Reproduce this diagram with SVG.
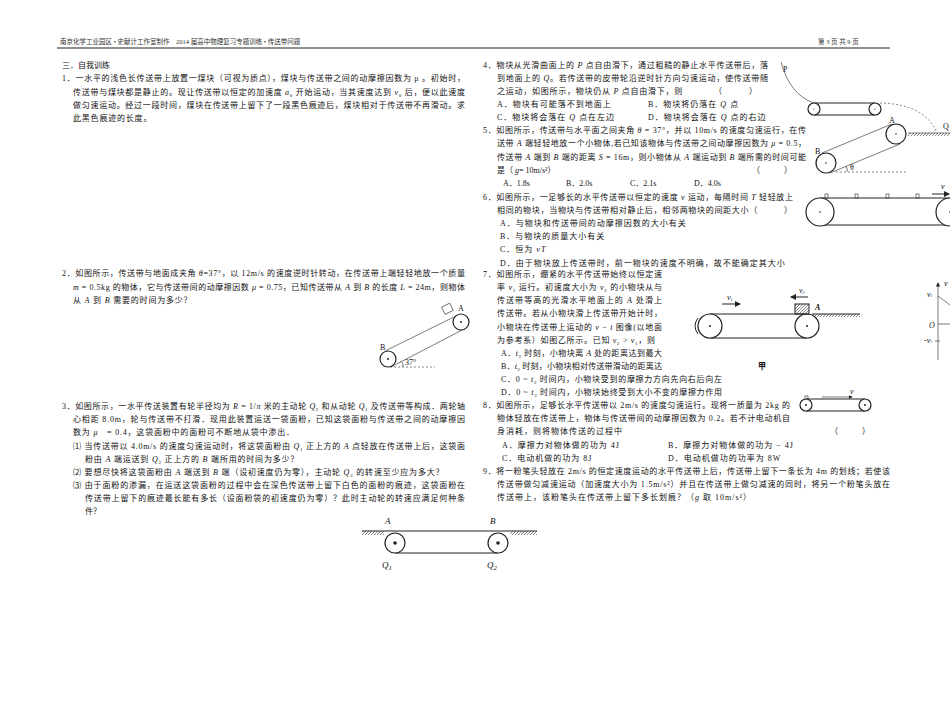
<svg xmlns="http://www.w3.org/2000/svg" width="950" height="713" viewBox="0 0 950 713">
<defs>
<style>
text{font-family:"Liberation Serif","Noto Sans CJK SC",serif;font-size:8px;fill:#111}
.h{font-size:6.5px;fill:#333}
.ln{stroke:#222;stroke-width:1;fill:none}
.tn{stroke:#444;stroke-width:0.7;fill:none}
.ds{stroke:#555;stroke-width:0.7;fill:none;stroke-dasharray:2 2}
.w{fill:#fff;stroke:#222;stroke-width:1.2}
.lab{font-size:9px;font-style:italic}
</style>
<pattern id="hat" width="3" height="3" patternUnits="userSpaceOnUse"><path d="M0 3L3 0" stroke="#333" stroke-width="0.6"/></pattern>
<marker id="ar" markerWidth="6" markerHeight="6" refX="5" refY="3" orient="auto"><path d="M0 0L6 3L0 6z" fill="#222"/></marker>
</defs>
<rect width="950" height="713" fill="#fff"/>
<g id="header">
<text class="h" x="60" y="44">南京化学工业园区 • 史献计工作室制作　2014 届高中物理复习专题训练 • 传送带问题</text>
<text class="h" x="818" y="44">第 3 页 共 9 页</text>
<line x1="57" y1="48" x2="890" y2="48" stroke="#222" stroke-width="1"/>
</g>
<g id="left-text">
<text x="62" y="68">三．自我训练</text>
<text x="62" y="81" textLength="403" lengthAdjust="spacing">1．一水平的浅色长传送带上放置一煤块（可视为质点），煤块与传送带之间的动摩擦因数为 μ 。初始时，</text>
<text x="73" y="95" textLength="392" lengthAdjust="spacing">传送带与煤块都是静止的。现让传送带以恒定的加速度 <tspan font-style="italic">a</tspan><tspan font-size="5" dy="2">0</tspan><tspan dy="-2"> 开始运动，当其速度达到 </tspan><tspan font-style="italic">v</tspan><tspan font-size="5" dy="2">0</tspan><tspan dy="-2"> 后，便以此速度</tspan></text>
<text x="73" y="108" textLength="392" lengthAdjust="spacing">做匀速运动。经过一段时间，煤块在传送带上留下了一段黑色痕迹后，煤块相对于传送带不再滑动。求</text>
<text x="73" y="121" letter-spacing="0.8">此黑色痕迹的长度。</text>
<text x="62" y="276" textLength="403" lengthAdjust="spacing">2．如图所示，传送带与地面成夹角 <tspan font-style="italic">θ</tspan>=37°，以 12m/s 的速度逆时针转动，在传送带上端轻轻地放一个质量</text>
<text x="73" y="290" textLength="392" lengthAdjust="spacing"><tspan font-style="italic">m</tspan> = 0.5kg 的物体，它与传送带间的动摩擦因数 <tspan font-style="italic">μ</tspan> = 0.75，已知传送带从 <tspan font-style="italic">A</tspan> 到 <tspan font-style="italic">B</tspan> 的长度 <tspan font-style="italic">L</tspan> = 24m，则物体</text>
<text x="73" y="303" letter-spacing="0.8">从 <tspan font-style="italic">A</tspan> 到 <tspan font-style="italic">B</tspan> 需要的时间为多少？</text>
<text x="62" y="409" textLength="403" lengthAdjust="spacing">3．如图所示，一水平传送装置有轮半径均为 <tspan font-style="italic">R</tspan> = 1/<tspan font-style="italic">π</tspan> 米的主动轮 <tspan font-style="italic">Q</tspan><tspan font-size="5" dy="2">2</tspan><tspan dy="-2"> 和从动轮 </tspan><tspan font-style="italic">Q</tspan><tspan font-size="5" dy="2">1</tspan><tspan dy="-2"> 及传送带等构成．两轮轴</tspan></text>
<text x="73" y="422" textLength="392" lengthAdjust="spacing">心相距 8.0m，轮与传送带不打滑．现用此装置运送一袋面粉，已知这袋面粉与传送带之间的动摩擦因</text>
<text x="73" y="435" letter-spacing="0.8">数为 <tspan font-style="italic">μ</tspan>　= 0.4，这袋面粉中的面粉可不断地从袋中渗出．</text>
<text x="73" y="449" textLength="392" lengthAdjust="spacing">⑴ 当传送带以 4.0m/s 的速度匀速运动时，将这袋面粉由 <tspan font-style="italic">Q</tspan><tspan font-size="5" dy="2">1</tspan><tspan dy="-2"> 正上方的 </tspan><tspan font-style="italic">A</tspan> 点轻放在传送带上后，这袋面</text>
<text x="85" y="462" letter-spacing="0.8">粉由 <tspan font-style="italic">A</tspan> 端运送到 <tspan font-style="italic">Q</tspan><tspan font-size="5" dy="2">2</tspan><tspan dy="-2"> 正上方的 </tspan><tspan font-style="italic">B</tspan> 端所用的时间为多少？</text>
<text x="73" y="475" letter-spacing="0.8">⑵ 要想尽快将这袋面粉由 <tspan font-style="italic">A</tspan> 端送到 <tspan font-style="italic">B</tspan> 端（设初速度仍为零），主动轮 <tspan font-style="italic">Q</tspan><tspan font-size="5" dy="2">2</tspan><tspan dy="-2"> 的转速至少应为多大？</tspan></text>
<text x="73" y="488" textLength="392" lengthAdjust="spacing">⑶ 由于面粉的渗漏，在运送这袋面粉的过程中会在深色传送带上留下白色的面粉的痕迹，这袋面粉在</text>
<text x="85" y="501" textLength="380" lengthAdjust="spacing">传送带上留下的痕迹最长能有多长（设面粉袋的初速度仍为零）？此时主动轮的转速应满足何种条</text>
<text x="85" y="514">件？</text>
</g>
<g id="right-text">
<text x="483" y="68" textLength="285" lengthAdjust="spacing">4．物块从光滑曲面上的 <tspan font-style="italic">P</tspan> 点自由滑下，通过粗糙的静止水平传送带后，落</text>
<text x="497" y="81" textLength="271" lengthAdjust="spacing">到地面上的 <tspan font-style="italic">Q</tspan>。若传送带的皮带轮沿逆时针方向匀速运动，使传送带随</text>
<text x="497" y="94" textLength="260" lengthAdjust="spacing">之运动，如图所示，物块仍从 <tspan font-style="italic">P</tspan> 点自由滑下，则　　　　（　　　）</text>
<text x="497" y="107" letter-spacing="1">A．物块有可能落不到地面上</text>
<text x="648" y="107" letter-spacing="1">B．物块将仍落在 <tspan font-style="italic">Q</tspan> 点</text>
<text x="497" y="120" letter-spacing="1">C．物块将会落在 <tspan font-style="italic">Q</tspan> 点在左边</text>
<text x="648" y="120" letter-spacing="1">D．物块将会落在 <tspan font-style="italic">Q</tspan> 点的右边</text>
<text x="483" y="133" textLength="323" lengthAdjust="spacing">5．如图所示，传送带与水平面之间夹角 <tspan font-style="italic">θ</tspan> = 37°，并以 10m/s 的速度匀速运行，在传</text>
<text x="497" y="146" textLength="309" lengthAdjust="spacing">送带 <tspan font-style="italic">A</tspan> 端轻轻地放一个小物体,若已知该物体与传送带之间动摩擦因数为 <tspan font-style="italic">μ</tspan> = 0.5，</text>
<text x="497" y="160" textLength="309" lengthAdjust="spacing">传送带 <tspan font-style="italic">A</tspan> 端到 <tspan font-style="italic">B</tspan> 端的距离 <tspan font-style="italic">S</tspan> = 16m，则小物体从 <tspan font-style="italic">A</tspan> 端运动到 <tspan font-style="italic">B</tspan> 端所需的时间可能</text>
<text x="497" y="173">是（ <tspan font-style="italic">g</tspan>= 10m/s²）</text>
<text x="752" y="173">（　　　）</text>
<text x="503" y="186">A．1.8s</text>
<text x="566" y="186">B．2.0s</text>
<text x="630" y="186">C．2.1s</text>
<text x="694" y="186">D．4.0s</text>
<text x="483" y="200" textLength="310" lengthAdjust="spacing">6．如图所示，一足够长的水平传送带以恒定的速度 <tspan font-style="italic">v</tspan> 运动，每隔时间 <tspan font-style="italic">T</tspan> 轻轻放上</text>
<text x="497" y="213" textLength="295" lengthAdjust="spacing">相同的物块，当物块与传送带相对静止后，相邻两物块的间距大小（　　　）</text>
<text x="500" y="226" letter-spacing="1">A．与物块和传送带间的动摩擦因数的大小有关</text>
<text x="500" y="239" letter-spacing="1">B．与物块的质量大小有关</text>
<text x="500" y="252" letter-spacing="1">C．恒为 <tspan font-style="italic">vT</tspan></text>
<text x="500" y="266" letter-spacing="1">D．由于物块放上传送带时，前一物块的速度不明确，故不能确定其大小</text>
<text x="483" y="277" textLength="179" lengthAdjust="spacing">7．如图所示，绷紧的水平传送带始终以恒定速</text>
<text x="497" y="290" textLength="165" lengthAdjust="spacing">率 <tspan font-style="italic">v</tspan><tspan font-size="5" dy="2">1</tspan><tspan dy="-2"> 运行。初速度大小为 </tspan><tspan font-style="italic">v</tspan><tspan font-size="5" dy="2">2</tspan><tspan dy="-2"> 的小物块从与</tspan></text>
<text x="497" y="303" textLength="165" lengthAdjust="spacing">传送带等高的光滑水平地面上的 <tspan font-style="italic">A</tspan> 处滑上</text>
<text x="497" y="316" textLength="165" lengthAdjust="spacing">传送带。若从小物块滑上传送带开始计时，</text>
<text x="497" y="330" textLength="165" lengthAdjust="spacing">小物块在传送带上运动的 <tspan font-style="italic">v</tspan> − <tspan font-style="italic">t</tspan> 图像(以地面</text>
<text x="497" y="343" textLength="158" lengthAdjust="spacing">为参考系）如图乙所示。已知 <tspan font-style="italic">v</tspan><tspan font-size="5" dy="2">2</tspan><tspan dy="-2"> &gt; </tspan><tspan font-style="italic">v</tspan><tspan font-size="5" dy="2">1</tspan><tspan dy="-2">，则</tspan></text>
<text x="501" y="356" textLength="161" lengthAdjust="spacing">A．<tspan font-style="italic">t</tspan><tspan font-size="5" dy="2">2</tspan><tspan dy="-2"> 时刻，小物块离 </tspan><tspan font-style="italic">A</tspan> 处的距离达到最大</text>
<text x="501" y="369" textLength="161" lengthAdjust="spacing">B．<tspan font-style="italic">t</tspan><tspan font-size="5" dy="2">2</tspan><tspan dy="-2"> 时刻，小物块相对传送带滑动的距离达</tspan></text>
<text x="501" y="382" textLength="221" lengthAdjust="spacing">C．0 ~ <tspan font-style="italic">t</tspan><tspan font-size="5" dy="2">2</tspan><tspan dy="-2"> 时间内，小物块受到的摩擦力方向先向右后向左</tspan></text>
<text x="501" y="395" textLength="221" lengthAdjust="spacing">D．0 ~ <tspan font-style="italic">t</tspan><tspan font-size="5" dy="2">3</tspan><tspan dy="-2"> 时间内，小物块始终受到大小不变的摩擦力作用</tspan></text>
<text x="483" y="408" textLength="307" lengthAdjust="spacing">8．如图所示，足够长水平传送带以 2m/s 的速度匀速运行。现将一质量为 2kg 的</text>
<text x="497" y="421" textLength="293" lengthAdjust="spacing">物体轻放在传送带上，物体与传送带间的动摩擦因数为 0.2。若不计电动机自</text>
<text x="497" y="434" letter-spacing="1">身消耗，则将物体传送的过程中</text>
<text x="830" y="434">（　　　）</text>
<text x="502" y="448" letter-spacing="1">A．摩擦力对物体做的功为 4J</text>
<text x="668" y="448" letter-spacing="1">B．摩擦力对物体做的功为 − 4J</text>
<text x="502" y="461" letter-spacing="1">C．电动机做的功为 8J</text>
<text x="668" y="461" letter-spacing="1">D．电动机做功的功率为 8W</text>
<text x="483" y="474" textLength="407" lengthAdjust="spacing">9．将一粉笔头轻放在 2m/s 的恒定速度运动的水平传送带上后，传送带上留下一条长为 4m 的划线；若使该</text>
<text x="497" y="487" textLength="393" lengthAdjust="spacing">传送带做匀减速运动（加速度大小为 1.5m/s²）并且在传送带上做匀减速的同时，将另一个粉笔头放在</text>
<text x="497" y="500" letter-spacing="1">传送带上，该粉笔头在传送带上留下多长划痕？（<tspan font-style="italic">g</tspan> 取 10m/s²）</text>
</g>
<g id="fig-q2">
<line class="tn" x1="385" y1="351" x2="458" y2="315"/>
<line class="tn" x1="391" y1="367" x2="464" y2="329"/>
<circle class="w" cx="388" cy="359" r="8"/><circle cx="388" cy="359" r="1" fill="#222"/>
<circle class="w" cx="461" cy="322" r="8"/><circle cx="461" cy="322" r="1" fill="#222"/>
<rect x="443" y="305" width="9" height="8" class="tn" transform="rotate(-27 447 309)"/>
<text x="380" y="350" font-size="6">B</text>
<text x="458" y="311" font-size="6">A</text>
<line class="ds" x1="390" y1="367" x2="435" y2="367"/>
<text x="405" y="365" font-size="6">37°</text>
<path class="tn" d="M401 361 Q404 364 403 367"/>
</g>
<g id="fig-q3">
<line class="ln" x1="362" y1="531" x2="537" y2="531"/>
<rect x="362" y="531" width="22" height="4" fill="url(#hat)"/>
<rect x="510" y="531" width="27" height="4" fill="url(#hat)"/>
<line class="ln" x1="395" y1="553" x2="498" y2="553"/>
<circle class="w" cx="395" cy="543" r="10"/><circle cx="395" cy="543" r="1.8" fill="#222"/>
<circle class="w" cx="498" cy="543" r="10"/><circle cx="498" cy="543" r="1.8" fill="#222"/>
<text class="lab" x="385" y="524" font-size="12">A</text>
<text class="lab" x="490" y="524" font-size="12">B</text>
<text class="lab" x="382" y="568" font-size="12">Q<tspan font-size="7" dy="2">1</tspan></text>
<text class="lab" x="487" y="568" font-size="12">Q<tspan font-size="7" dy="2">2</tspan></text>
</g>
<g id="fig-q4">
<path class="tn" d="M781 62 Q790 95 814 103"/>
<line class="ln" x1="814" y1="103" x2="875" y2="103"/>
<line class="ln" x1="814" y1="115" x2="875" y2="115"/>
<circle class="w" cx="814" cy="109" r="6"/><circle cx="814" cy="109" r="0.6" fill="#222"/>
<circle class="w" cx="875" cy="109" r="6"/><circle cx="875" cy="109" r="0.6" fill="#222"/>
<path class="ds" d="M880 103 Q925 104 937 133"/>
<line class="tn" x1="908" y1="133" x2="950" y2="133"/>
<rect x="908" y="133" width="42" height="3" fill="url(#hat)"/>
<text x="783" y="72" font-size="7">P</text>
<text x="943" y="129" font-size="7">Q</text>
</g>
<g id="fig-q5">
<line class="tn" x1="822" y1="153" x2="892" y2="124"/>
<line class="tn" x1="830" y1="173" x2="900" y2="144"/>
<circle class="w" cx="826" cy="163" r="10" stroke-width="0.8"/><circle cx="826" cy="163" r="0.8" fill="#222"/>
<circle class="w" cx="896" cy="134" r="10" stroke-width="0.8"/><circle cx="896" cy="134" r="0.8" fill="#222"/>
<line class="ds" x1="836" y1="172" x2="908" y2="172"/>
<path class="tn" d="M846 166 Q848 169 847 172"/>
<text x="850" y="170" font-size="6">θ</text>
<text x="889" y="123" font-size="6">A</text>
<text x="815" y="154" font-size="6">B</text>
</g>
<g id="fig-q6">
<line class="ln" x1="820" y1="198" x2="950" y2="198"/>
<line class="ln" x1="820" y1="225" x2="950" y2="225"/>
<circle class="w" cx="820" cy="212" r="14" stroke-width="0.8"/><circle cx="820" cy="212" r="0.8" fill="#222"/>
<circle class="w" cx="950" cy="212" r="14" stroke-width="0.8"/><circle cx="950" cy="212" r="0.8" fill="#222"/>
<rect x="825" y="194" width="3" height="4" class="tn"/>
<rect x="855" y="194" width="3" height="4" class="tn"/>
<rect x="886" y="194" width="3" height="4" class="tn"/>
<rect x="916" y="194" width="3" height="4" class="tn"/>
<line class="ln" x1="932" y1="194" x2="949" y2="194" marker-end="url(#ar)"/>
<text x="941" y="189" font-size="6" font-style="italic">v</text>
</g>
<g id="fig-q7">
<line class="ln" x1="710" y1="314" x2="807" y2="314"/>
<line class="ln" x1="710" y1="338" x2="807" y2="338"/>
<circle class="w" cx="710" cy="326" r="12"/><circle cx="710" cy="326" r="1" fill="#222"/>
<circle class="w" cx="807" cy="326" r="12"/><circle cx="807" cy="326" r="1" fill="#222"/>
<path class="ln" d="M698 318 Q692 326 698 334" stroke-width="1.5"/>
<rect x="795" y="304" width="14" height="10" fill="url(#hat)" stroke="#222"/>
<line class="ln" x1="812" y1="314" x2="860" y2="314"/>
<rect x="812" y="314" width="48" height="3" fill="url(#hat)"/>
<line class="ln" x1="722" y1="304" x2="740" y2="304" marker-end="url(#ar)"/>
<text x="727" y="300" font-size="6" font-style="italic">v<tspan font-size="4" dy="1">1</tspan></text>
<line class="ln" x1="808" y1="297" x2="791" y2="297" marker-end="url(#ar)"/>
<text x="799" y="293" font-size="6" font-style="italic">v<tspan font-size="4" dy="1">2</tspan></text>
<text x="815" y="310" font-size="8" font-style="italic" font-weight="bold">A</text>
<text x="758" y="369" font-size="8" font-weight="bold">甲</text>
</g>
<g id="fig-q7-graph">
<line class="tn" x1="938" y1="360" x2="938" y2="283" marker-end="url(#ar)"/>
<line class="tn" x1="938" y1="296" x2="950" y2="305"/>
<line class="tn" x1="938" y1="324" x2="950" y2="324"/>
<line class="tn" x1="935" y1="341" x2="940" y2="341"/>
<text x="944" y="286" font-size="5" font-style="italic">v</text>
<text x="927" y="297" font-size="5" font-style="italic">v<tspan font-size="3.5">1</tspan></text>
<text x="929" y="328" font-size="7" font-style="italic">O</text>
<text x="924" y="343" font-size="5" font-style="italic">-v<tspan font-size="3.5">1</tspan></text>
</g>
<g id="fig-q8">
<line class="ln" x1="806" y1="399" x2="865" y2="399"/>
<line class="ln" x1="806" y1="411" x2="865" y2="411"/>
<circle class="w" cx="806" cy="405" r="6"/><circle cx="806" cy="405" r="1" fill="#222"/>
<circle class="w" cx="865" cy="405" r="6"/><circle cx="865" cy="405" r="1" fill="#222"/>
<rect x="805" y="396" width="3" height="3" class="tn"/>
<line class="tn" x1="822" y1="397" x2="852" y2="397" marker-end="url(#ar)"/>
<text x="850" y="394" font-size="4" font-style="italic">v</text>
</g>
</svg>
